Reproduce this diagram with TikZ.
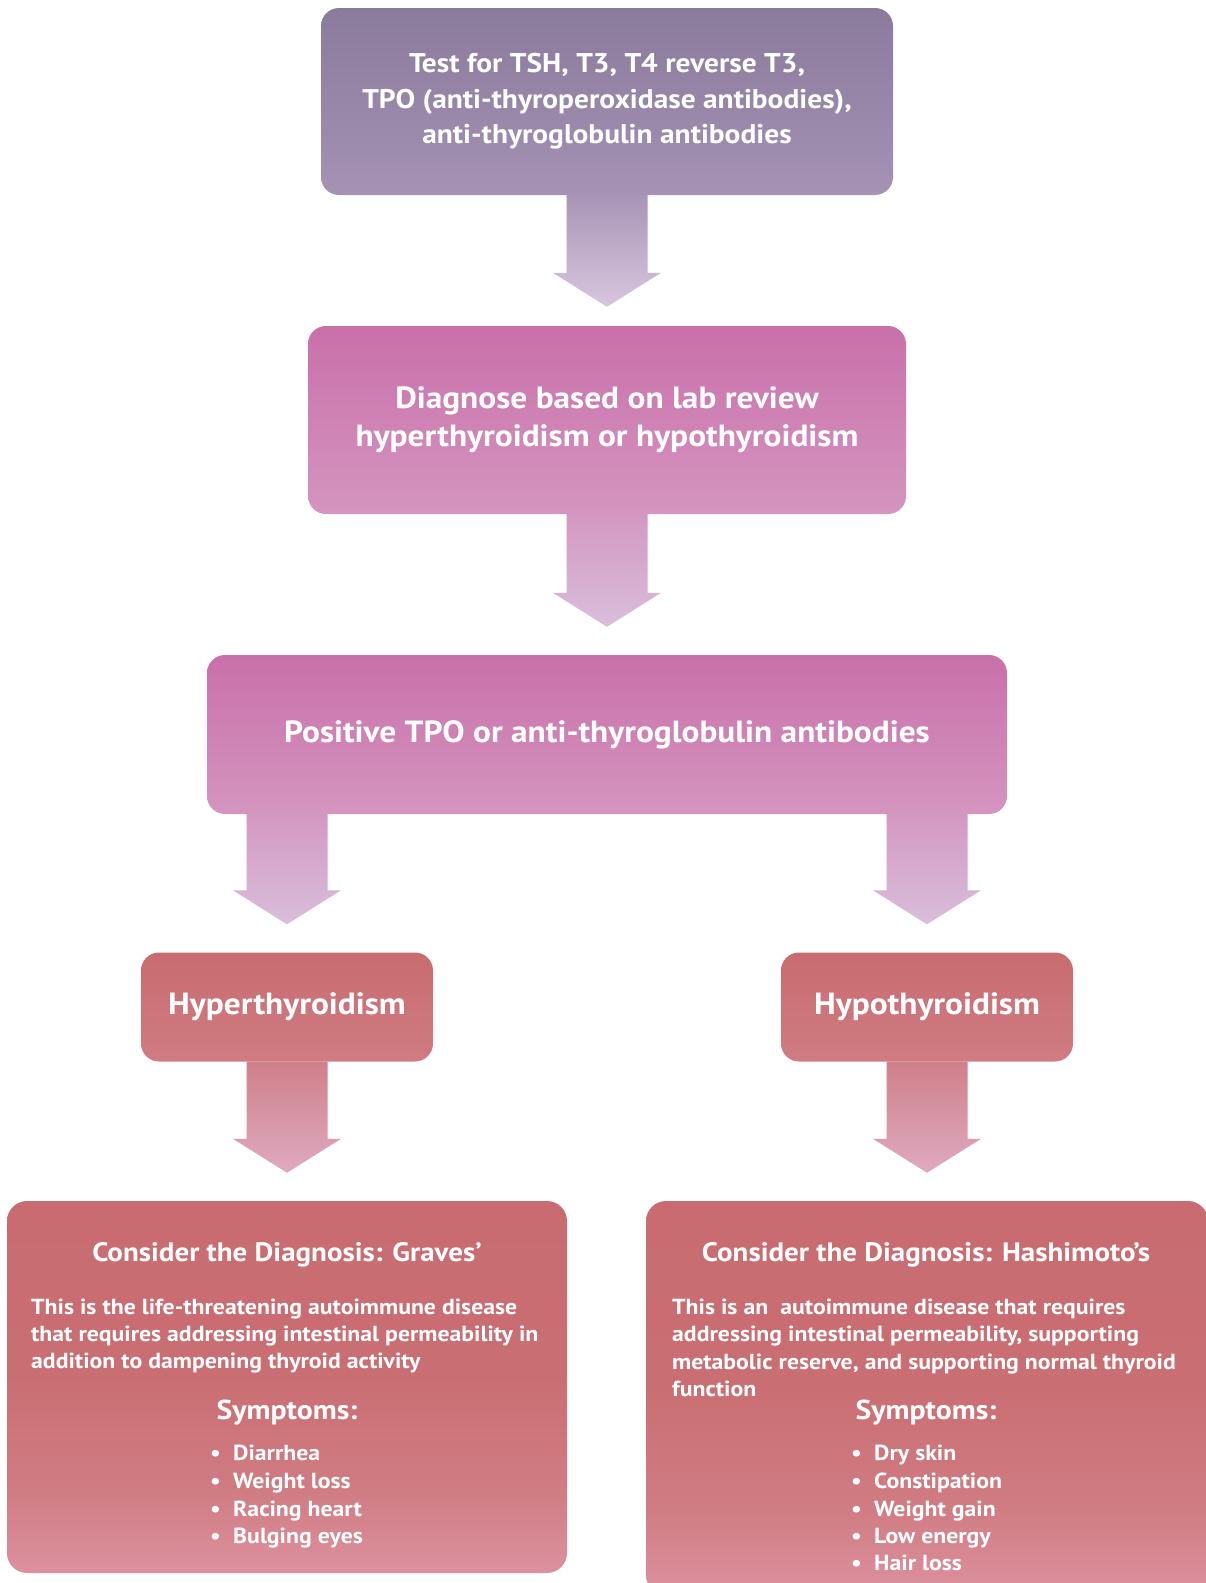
\documentclass[tikz,border=0pt]{standalone}
\usepackage{fontspec}
\setmainfont{PT Sans}[FakeStretch=1.09]
\usetikzlibrary{calc}
\definecolor{topA}{HTML}{8A7A9B}
\definecolor{topB}{HTML}{A592B5}
\definecolor{arrA}{HTML}{A895B7}
\definecolor{arrB}{HTML}{D8C6DE}
\definecolor{pinkA}{HTML}{C970A9}
\definecolor{pinkB}{HTML}{D495C0}
\definecolor{parA}{HTML}{D398C2}
\definecolor{parB}{HTML}{D9BEDB}
\definecolor{redA}{HTML}{C86C71}
\definecolor{redB}{HTML}{CF7C82}
\definecolor{rarA}{HTML}{CF8089}
\definecolor{rarB}{HTML}{DFAAC2}
\definecolor{botB}{HTML}{DC919F}
\definecolor{botM}{HTML}{D07C83}
\definecolor{botN}{HTML}{C96E73}
\pgfdeclareverticalshading{botshade}{100bp}{color(0bp)=(botB); color(25bp)=(botB); color(36bp)=(botM); color(52bp)=(botN); color(75bp)=(redA); color(100bp)=(redA)}
\newcommand{\blockarrow}[4]{%
  \shade[top color=#3,bottom color=#4] let \p1=#1, \p2=#2 in
    (\x1-40.5pt,\y1) -- (\x1+40.5pt,\y1) -- (\x1+40.5pt,\y2+34pt) -- (\x1+54pt,\y2+34pt)
    -- (\x1,\y2) -- (\x1-54pt,\y2+34pt) -- (\x1-40.5pt,\y2+34pt) -- cycle;}
\begin{document}
\begin{tikzpicture}[x=1pt,y=-1pt,
  box/.style={rounded corners=18pt, inner sep=0pt, text=white, font=\bfseries, align=center},
  txt/.style={text=white, inner sep=0pt, font=\bfseries\fontsize{21.8}{26}\selectfont},
  ttl/.style={text=white, inner sep=0pt, font=\bfseries\fontsize{26.6}{30}\selectfont},
  sym/.style={text=white, inner sep=0pt, font=\bfseries\fontsize{27.3}{32}\selectfont},
  itm/.style={text=white, inner sep=0pt, font=\bfseries\fontsize{21.8}{26}\selectfont, anchor=mid west}]
\clip (0,0) rectangle (1206,1583);
\fill[white] (0,0) rectangle (1206,1583);

\node[box, top color=topA, bottom color=topB, minimum width=572pt, minimum height=187pt,
  font=\bfseries\fontsize{27}{35.5}\selectfont] (test) at (607,101.5)
  {Test for TSH, T3, T4 reverse T3,\\TPO (anti-thyroperoxidase antibodies),\\anti-thyroglobulin antibodies};

\node[box, top color=pinkA, bottom color=pinkB, minimum width=598pt, minimum height=188pt,
  font=\bfseries\fontsize{30.6}{38}\selectfont] (diag) at (607,420)
  {Diagnose based on lab review\\hyperthyroidism or hypothyroidism};

\node[box, top color=pinkA, bottom color=pinkB, minimum width=800pt, minimum height=159pt,
  font=\bfseries\fontsize{30.6}{36}\selectfont] (pos) at (607,734.5)
  {Positive TPO or anti-thyroglobulin antibodies};

\node[box, top color=redA, bottom color=redB, minimum width=292pt, minimum height=109pt,
  font=\bfseries\fontsize{30.6}{36}\selectfont] (hyper) at (287,1007) {Hyperthyroidism};
\node[box, top color=redA, bottom color=redB, minimum width=292pt, minimum height=109pt,
  font=\bfseries\fontsize{30.6}{36}\selectfont] (hypo) at (927,1007) {Hypothyroidism};

\node[box, rounded corners=20pt, shading=botshade,
  minimum width=560pt, minimum height=372pt] (graves) at (287,1387) {};
\node[box, rounded corners=20pt, shading=botshade,
  minimum width=562pt, minimum height=394pt] (hashi) at (927,1398) {};

% block arrows
\blockarrow{(test.south)}{($(diag.north)+(0,-19)$)}{arrA}{arrB}
\blockarrow{(diag.south)}{($(pos.north)+(0,-28)$)}{parA}{parB}
\blockarrow{(hyper.north |- pos.south)}{($(hyper.north)+(0,-28)$)}{parA}{parB}
\blockarrow{(hypo.north |- pos.south)}{($(hypo.north)+(0,-28)$)}{parA}{parB}
\blockarrow{(hyper.south)}{($(graves.north)+(0,-28)$)}{rarA}{rarB}
\blockarrow{(hypo.south)}{($(hashi.north)+(0,-28)$)}{rarA}{rarB}

% Graves content
\node[ttl, anchor=mid] (gt) at (287,1259) {Consider the Diagnosis: Graves’};
\node[txt, anchor=mid west] (gb1) at (31,1312) {This is the life-threatening autoimmune disease};
\node[txt, anchor=mid west] (gb2) at (31,1339) {that requires addressing intestinal permeability in};
\node[txt, anchor=mid west] (gb3) at (31,1366) {addition to dampening thyroid activity};
\node[sym, anchor=mid] (gs) at (287,1417) {Symptoms:};
\node[itm] (g1) at (210,1458) {\makebox[23pt][l]{•}Diarrhea};
\node[itm] (g2) at (210,1486) {\makebox[23pt][l]{•}Weight loss};
\node[itm] (g3) at (210,1514) {\makebox[23pt][l]{•}Racing heart};
\node[itm] (g4) at (210,1541) {\makebox[23pt][l]{•}Bulging eyes};

% Hashimoto content
\node[ttl, anchor=mid] (ht) at (926,1259) {Consider the Diagnosis: Hashimoto’s};
\node[txt, anchor=mid west] (hb1) at (672,1312) {This is an\ \ autoimmune disease that requires};
\node[txt, anchor=mid west] (hb2) at (672,1339) {addressing intestinal permeability, supporting};
\node[txt, anchor=mid west] (hb3) at (672,1367) {metabolic reserve, and supporting normal thyroid};
\node[txt, anchor=mid west] (hb4) at (672,1394) {function};
\node[sym, anchor=mid] (hs) at (926,1417) {Symptoms:};
\node[itm] (h1) at (851,1458) {\makebox[23pt][l]{•}Dry skin};
\node[itm] (h2) at (851,1486) {\makebox[23pt][l]{•}Constipation};
\node[itm] (h3) at (851,1514) {\makebox[23pt][l]{•}Weight gain};
\node[itm] (h4) at (851,1541) {\makebox[23pt][l]{•}Low energy};
\node[itm] (h5) at (851,1568) {\makebox[23pt][l]{•}Hair loss};
\end{tikzpicture}
\end{document}
